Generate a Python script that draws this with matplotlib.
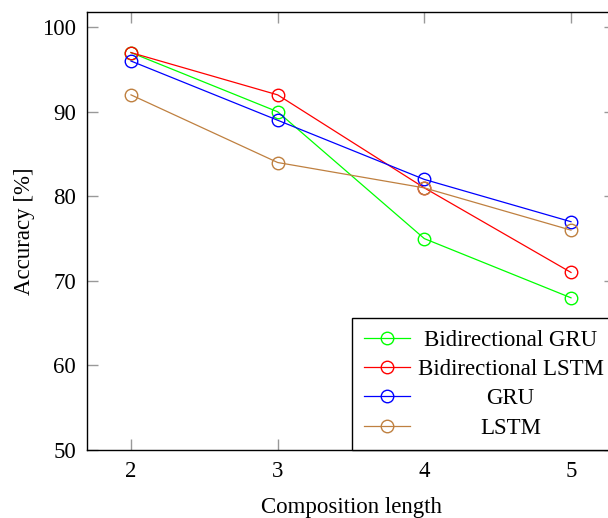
import matplotlib
matplotlib.use('Agg')
import matplotlib.pyplot as plt

lengths = [2, 3, 4, 5]
bi_gru = [97, 90, 75, 68]
bi_lstm = [97, 92, 81, 71]
gru = [96, 89, 82, 77]
lstm = [92, 84, 81, 76]

plt.rcParams['font.family'] = ['Liberation Serif', 'DejaVu Serif']

fig = plt.figure(figsize=(6.08, 5.18), dpi=100)
ax = fig.add_axes([87/608, 68/518, 528/608, 438/518])

series = [(bi_gru, '#00ff00', 'Bidirectional GRU'),
          (bi_lstm, '#ff0000', 'Bidirectional LSTM'),
          (gru, '#0000ff', 'GRU'),
          (lstm, '#bf8040', 'LSTM')]
for vals, c, lab in series:
    ax.plot(lengths, vals, '-o', color=c, lw=0.9, ms=9, mfc='none', mec=c, mew=1.0, label=lab)

ax.set_xlim(1.7, 5.3)
ax.set_ylim(50, 101.8)
ax.set_xticks(lengths)
ax.set_yticks(range(50, 101, 10))
ax.tick_params(direction='in', length=8, width=1, color='#999999', top=True, right=True,
               labelsize=16.5, pad=8)
for s in ax.spines.values():
    s.set_linewidth(1.0)
ax.set_xlabel('Composition length', fontsize=16.5, labelpad=11)
ax.set_ylabel('Accuracy [%]', fontsize=16.5, labelpad=5)

leg = ax.legend(loc='lower right', bbox_to_anchor=(1, 0), borderaxespad=0, fontsize=16.5,
                fancybox=False, edgecolor='black', framealpha=1, handlelength=2.0,
                labelspacing=0.36, borderpad=0.5, handletextpad=0.35)
leg.get_frame().set_linewidth(1.0)

# center the legend labels like pgfplots does
fig.canvas.draw()
r = fig.canvas.get_renderer()
ws = [t.get_window_extent(r).width for t in leg.get_texts()]
for t, w in zip(leg.get_texts(), ws):
    t.set_position(((max(ws) - w) / 2, 0))

fig.savefig('out.png', dpi=100)
